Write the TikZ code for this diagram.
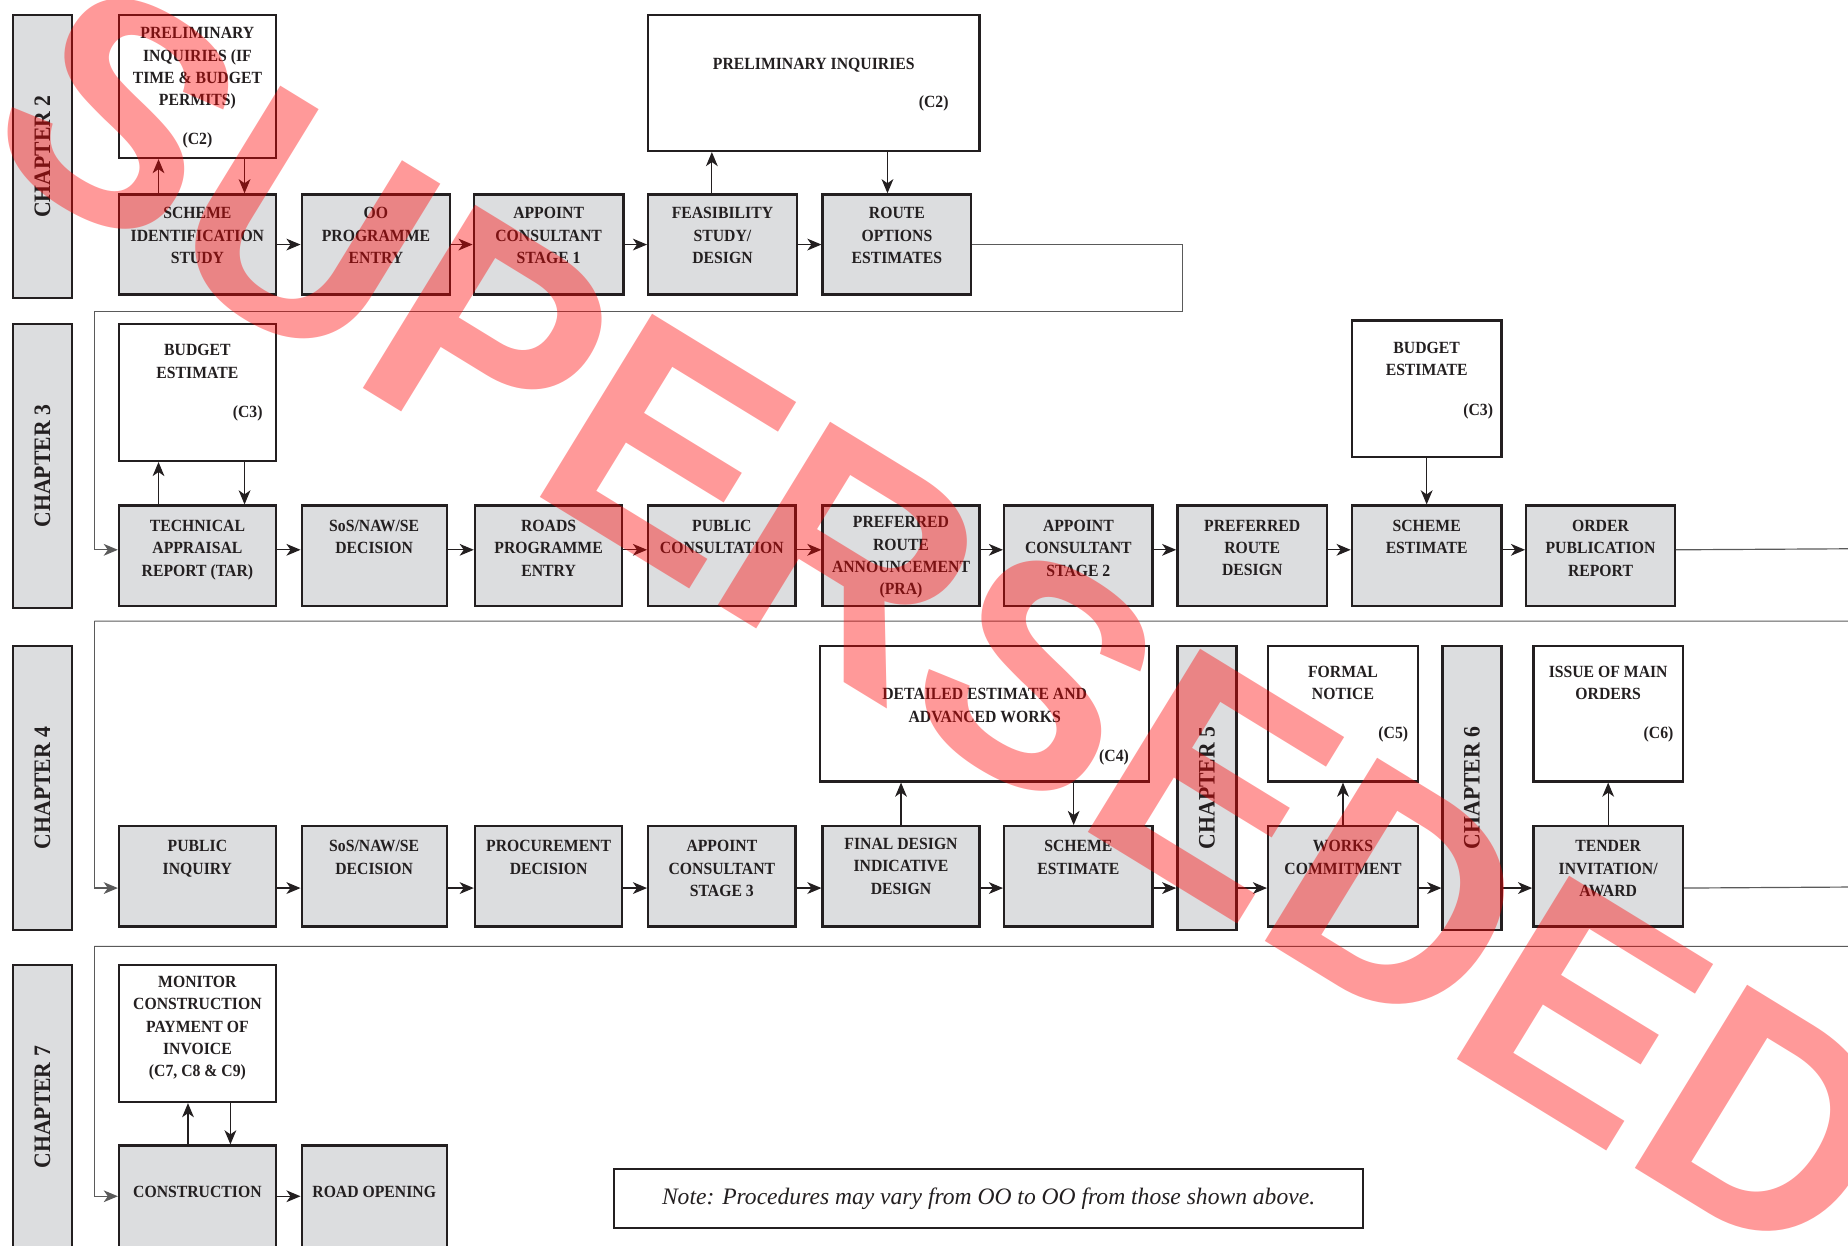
\documentclass[tikz,border=0pt]{standalone}
\usepackage{fontspec}
\setmainfont[FakeStretch=0.92]{Liberation Serif}
\newfontfamily\notefont{Liberation Serif}
\newfontfamily\markfont{Liberation Sans}
\usetikzlibrary{arrows.meta}
\definecolor{boxgray}{RGB}{220,221,223}
\definecolor{linegray}{RGB}{90,90,90}
\definecolor{ink}{RGB}{35,31,32}

\tikzset{
  gbox/.style={draw=ink, fill=boxgray, line width=2pt, anchor=north west,
    minimum width=126pt, minimum height=85pt, inner sep=0pt},
  wbox/.style={draw=ink, fill=white, line width=2pt, anchor=north west, inner sep=0pt},
  chbar/.style={draw=ink, fill=boxgray, line width=2pt, anchor=north west,
    minimum width=50pt, minimum height=241pt, inner sep=0pt},
  lbl/.style={font=\fontsize{14.5}{19}\selectfont\bfseries, align=center,
    inner sep=0pt, anchor=north, text=ink},
  cref/.style={font=\fontsize{14.5}{19}\selectfont\bfseries, inner sep=0pt,
    anchor=east, text=ink},
  chlbl/.style={font=\fontsize{20}{20}\selectfont\bfseries, rotate=90,
    inner sep=0pt, text=ink},
  link/.style={->, line width=1pt, draw=ink},
  retline/.style={line width=1pt, draw=linegray},
}

\begin{document}
\begin{tikzpicture}[x=1pt, y=-1pt, >={Stealth[length=12pt, width=10pt, inset=3.5pt]}]
  \useasboundingbox (0,0) rectangle (1568,1057);
  \clip (0,0) rectangle (1568,1057);

  % Chapter bars
  \node[chbar, minimum height=240pt] (ch2) at (10,12) {};
  \node[chlbl] (ch2t) at (ch2.center) {CHAPTER 2};
  \node[chbar] (ch3) at (10,274) {};
  \node[chlbl] (ch3t) at (ch3.center) {CHAPTER 3};
  \node[chbar] (ch4) at (10,547) {};
  \node[chlbl] (ch4t) at (ch4.center) {CHAPTER 4};
  \node[chbar] (ch7) at (10,818) {};
  \node[chlbl] (ch7t) at (ch7.center) {CHAPTER 7};
  \node[chbar] (ch5) at (998,547) {};
  \node[chlbl] (ch5t) at (ch5.center) {CHAPTER 5};
  \node[chbar] (ch6) at (1223,547) {};
  \node[chlbl] (ch6t) at (ch6.center) {CHAPTER 6};

  % Chapter 2 row
  \node[wbox, minimum width=133pt, minimum height=121pt] (pi1) at (100,12) {};
  \node[lbl] (pi1t) at ([yshift=-11pt]pi1.north) {PRELIMINARY\\INQUIRIES (IF\\TIME \& BUDGET\\PERMITS)};
  \node[lbl] (pi1c) at ([yshift=-100pt]pi1.north) {(C2)};
  \node[wbox, minimum width=281pt, minimum height=115pt] (pi2) at (549,12) {};
  \node[lbl] (pi2t) at ([yshift=-37pt]pi2.north) {PRELIMINARY INQUIRIES};
  \node[cref] (pi2c) at ([xshift=-27pt, yshift=-76pt]pi2.north east) {(C2)};

  \node[gbox, minimum width=133pt] (sid) at (100,164) {};
  \node[lbl] (sidt) at ([yshift=-12pt]sid.north) {SCHEME\\IDENTIFICATION\\STUDY};
  \node[gbox] (oop) at (255,164) {};
  \node[lbl] (oopt) at ([yshift=-12pt]oop.north) {OO\\PROGRAMME\\ENTRY};
  \node[gbox, minimum width=127pt] (ac1) at (401,164) {};
  \node[lbl] (ac1t) at ([yshift=-12pt]ac1.north) {APPOINT\\CONSULTANT\\STAGE 1};
  \node[gbox] (fsd) at (549,164) {};
  \node[lbl] (fsdt) at ([yshift=-12pt]fsd.north) {FEASIBILITY\\STUDY/\\DESIGN};
  \node[gbox] (roe) at (697,164) {};
  \node[lbl] (roet) at ([yshift=-12pt]roe.north) {ROUTE\\OPTIONS\\ESTIMATES};

  \draw[link] (sid.east) -- (oop.west);
  \draw[link] (oop.east) -- (ac1.west);
  \draw[link] (ac1.east) -- (fsd.west);
  \draw[link] (fsd.east) -- (roe.west);
  \draw[link] ([xshift=-33pt]sid.north) -- ([xshift=-33pt]pi1.south);
  \draw[link] ([xshift=40pt]pi1.south) -- ([xshift=40pt]sid.north);
  \draw[link] ([xshift=-9pt]fsd.north) -- ([xshift=-9pt]fsd.north |- pi2.south);
  \draw[link] ([xshift=-8pt]roe.north |- pi2.south) -- ([xshift=-8pt]roe.north);

  % Chapter 3 row
  \node[wbox, minimum width=133pt, minimum height=116pt] (be1) at (100,274) {};
  \node[lbl] (be1t) at ([yshift=-18pt]be1.north) {BUDGET\\ESTIMATE};
  \node[cref] (be1c) at ([xshift=-12pt, yshift=-77pt]be1.north east) {(C3)};
  \node[wbox, minimum width=127pt, minimum height=116pt] (be2) at (1146,271) {};
  \node[lbl] (be2t) at ([yshift=-19pt]be2.north) {BUDGET\\ESTIMATE};
  \node[cref] (be2c) at ([xshift=-8pt, yshift=-78pt]be2.north east) {(C3)};

  \node[gbox, minimum width=133pt] (tar) at (100,428) {};
  \node[lbl] (tart) at ([yshift=-13pt]tar.north) {TECHNICAL\\APPRAISAL\\REPORT (TAR)};
  \node[gbox, minimum width=123pt] (sos1) at (255,428) {};
  \node[lbl] (sos1t) at ([yshift=-13pt]sos1.north) {SoS/NAW/SE\\DECISION};
  \node[gbox, minimum width=125pt] (rpe) at (402,428) {};
  \node[lbl] (rpet) at ([yshift=-13pt]rpe.north) {ROADS\\PROGRAMME\\ENTRY};
  \node[gbox, minimum width=125pt] (pcn) at (549,428) {};
  \node[lbl] (pcnt) at ([yshift=-13pt]pcn.north) {PUBLIC\\CONSULTATION};
  \node[gbox, minimum width=133pt] (pra) at (697,428) {};
  \node[lbl] (prat) at ([yshift=-10pt]pra.north) {PREFERRED\\ROUTE\\ANNOUNCEMENT\\(PRA)};
  \node[gbox] (ac2) at (851,428) {};
  \node[lbl] (ac2t) at ([yshift=-13pt]ac2.north) {APPOINT\\CONSULTANT\\STAGE 2};
  \node[gbox, minimum width=127pt] (prd) at (998,428) {};
  \node[lbl] (prdt) at ([yshift=-13pt]prd.north) {PREFERRED\\ROUTE\\DESIGN};
  \node[gbox, minimum width=127pt] (se1) at (1146,428) {};
  \node[lbl] (se1t) at ([yshift=-13pt]se1.north) {SCHEME\\ESTIMATE};
  \node[gbox] (opr) at (1294,428) {};
  \node[lbl] (oprt) at ([yshift=-13pt]opr.north) {ORDER\\PUBLICATION\\REPORT};

  \draw[link] ([yshift=5pt]tar.east) -- ([yshift=5pt]sos1.west);
  \draw[link] ([yshift=5pt]sos1.east) -- ([yshift=5pt]rpe.west);
  \draw[link] ([yshift=5pt]rpe.east) -- ([yshift=5pt]pcn.west);
  \draw[link] ([yshift=5pt]pcn.east) -- ([yshift=5pt]pra.west);
  \draw[link] ([yshift=5pt]pra.east) -- ([yshift=5pt]ac2.west);
  \draw[link] ([yshift=5pt]ac2.east) -- ([yshift=5pt]prd.west);
  \draw[link] ([yshift=5pt]prd.east) -- ([yshift=5pt]se1.west);
  \draw[link] ([yshift=5pt]se1.east) -- ([yshift=5pt]opr.west);
  \draw[link] ([xshift=-33pt]tar.north) -- ([xshift=-33pt]be1.south);
  \draw[link] ([xshift=40pt]be1.south) -- ([xshift=40pt]tar.north);
  \draw[link] (be2.south) -- (se1.north);

  % Chapter 4 row
  \node[wbox, minimum width=279pt, minimum height=115pt] (dea) at (695,547) {};
  \node[lbl] (deat) at ([yshift=-37pt]dea.north) {DETAILED ESTIMATE AND\\ADVANCED WORKS};
  \node[cref] (deac) at ([xshift=-18pt, yshift=-96pt]dea.north east) {(C4)};
  \node[wbox, minimum width=127pt, minimum height=115pt] (fno) at (1075,547) {};
  \node[lbl] (fnot) at ([yshift=-18pt]fno.north) {FORMAL\\NOTICE};
  \node[cref] (fnoc) at ([xshift=-9pt, yshift=-76pt]fno.north east) {(C5)};
  \node[wbox, minimum width=127pt, minimum height=115pt] (imo) at (1300,547) {};
  \node[lbl] (imot) at ([yshift=-18pt]imo.north) {ISSUE OF MAIN\\ORDERS};
  \node[cref] (imoc) at ([xshift=-9pt, yshift=-76pt]imo.north east) {(C6)};

  \node[gbox, minimum width=133pt] (pinq) at (100,700) {};
  \node[lbl] (pinqt) at ([yshift=-13pt]pinq.north) {PUBLIC\\INQUIRY};
  \node[gbox, minimum width=123pt] (sos2) at (255,700) {};
  \node[lbl] (sos2t) at ([yshift=-13pt]sos2.north) {SoS/NAW/SE\\DECISION};
  \node[gbox, minimum width=125pt] (proc) at (402,700) {};
  \node[lbl] (proct) at ([yshift=-13pt]proc.north) {PROCUREMENT\\DECISION};
  \node[gbox, minimum width=125pt] (ac3) at (549,700) {};
  \node[lbl] (ac3t) at ([yshift=-13pt]ac3.north) {APPOINT\\CONSULTANT\\STAGE 3};
  \node[gbox, minimum width=133pt] (fdd) at (697,700) {};
  \node[lbl] (fddt) at ([yshift=-11pt]fdd.north) {FINAL DESIGN\\INDICATIVE\\DESIGN};
  \node[gbox] (se2) at (851,700) {};
  \node[lbl] (se2t) at ([yshift=-13pt]se2.north) {SCHEME\\ESTIMATE};
  \node[gbox, minimum width=127pt] (wcm) at (1075,700) {};
  \node[lbl] (wcmt) at ([yshift=-13pt]wcm.north) {WORKS\\COMMITMENT};
  \node[gbox, minimum width=127pt] (tia) at (1300,700) {};
  \node[lbl] (tiat) at ([yshift=-13pt]tia.north) {TENDER\\INVITATION/\\AWARD};

  \draw[link] ([yshift=-10pt]pinq.east) -- ([yshift=-10pt]sos2.west);
  \draw[link] ([yshift=-10pt]sos2.east) -- ([yshift=-10pt]proc.west);
  \draw[link] ([yshift=-10pt]proc.east) -- ([yshift=-10pt]ac3.west);
  \draw[link] ([yshift=-10pt]ac3.east) -- ([yshift=-10pt]fdd.west);
  \draw[link] ([yshift=-10pt]fdd.east) -- ([yshift=-10pt]se2.west);
  \draw[link] ([yshift=-10pt]se2.east) -- ([yshift=-10pt]se2.east -| ch5.west);
  \draw[link] ([yshift=-10pt]wcm.west -| ch5.east) -- ([yshift=-10pt]wcm.west);
  \draw[link] ([yshift=-10pt]wcm.east) -- ([yshift=-10pt]wcm.east -| ch6.west);
  \draw[link] ([yshift=-10pt]tia.west -| ch6.east) -- ([yshift=-10pt]tia.west);
  \draw[link] (fdd.north) -- (fdd.north |- dea.south);
  \draw[link] ([xshift=-4pt]se2.north |- dea.south) -- ([xshift=-4pt]se2.north);
  \draw[link] (wcm.north) -- (fno.south);
  \draw[link] (tia.north) -- (imo.south);

  % Chapter 7 row
  \node[wbox, minimum width=133pt, minimum height=116pt] (mon) at (100,818) {};
  \node[lbl] (mont) at ([yshift=-10pt]mon.north) {MONITOR\\CONSTRUCTION\\PAYMENT OF\\INVOICE\\(C7, C8 \& C9)};
  \node[gbox, minimum width=133pt, minimum height=86pt] (con) at (100,971) {};
  \node[lbl, anchor=center] (cont) at ([yshift=4pt]con.center) {CONSTRUCTION};
  \node[gbox, minimum width=123pt, minimum height=86pt] (rop) at (255,971) {};
  \node[lbl, anchor=center] (ropt) at ([yshift=4pt]rop.center) {ROAD OPENING};

  \draw[link] (con.east) -- (rop.west);
  \draw[link] ([xshift=-8pt]con.north) -- ([xshift=-8pt]mon.south);
  \draw[link] ([xshift=28pt]mon.south) -- ([xshift=28pt]con.north);

  % Return lines between rows
  \coordinate (r1) at (1003,264);
  \coordinate (r1l) at (80,264);
  \draw[retline] (roe.east) -| (r1) -- (r1l);
  \draw[retline, ->] (r1l) |- ([yshift=5pt]tar.west);
  \coordinate (r2) at (1590,465.5);
  \coordinate (r2l) at (80,527);
  \draw[retline] ([yshift=5pt]opr.east) -- (r2) |- (r2l);
  \draw[retline, ->] (r2l) |- ([yshift=-10pt]pinq.west);
  \coordinate (r3) at (1590,752.5);
  \coordinate (r3l) at (80,803);
  \draw[retline] ([yshift=-10pt]tia.east) -- (r3) |- (r3l);
  \draw[retline, ->] (r3l) |- (con.west);

  % Note
  \node[wbox, minimum width=636pt, minimum height=50pt, line width=1.6pt] (note) at (520,991) {};
  \node[inner sep=0pt, text=ink, font=\notefont\fontsize{20}{20}\selectfont\itshape] (notet) at (note.center) {Note: Procedures may vary from OO to OO from those shown above.};

  % Watermark
  \node[inner sep=0pt, text=red, text opacity=0.4, rotate=-31.5,
    font=\markfont\fontsize{265}{265}\selectfont\bfseries] (mark) at (805,527) {SUPERSEDED};
\end{tikzpicture}
\end{document}
